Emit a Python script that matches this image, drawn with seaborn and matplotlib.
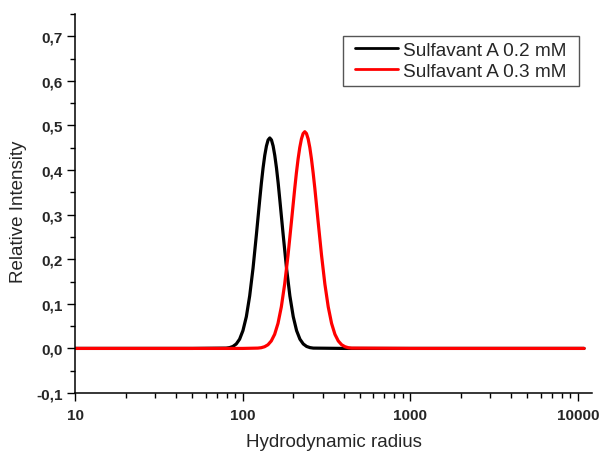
import matplotlib
matplotlib.use("Agg")
import matplotlib.pyplot as plt
from matplotlib.patches import Rectangle
from matplotlib.ticker import FuncFormatter, MultipleLocator, FixedLocator
import pandas as pd
import seaborn as sns

# Size distributions (hydrodynamic radius vs. relative intensity)
radius_02 = [10, 50, 79.6, 83.4, 87.3, 91.4, 95.7, 100.2, 105.0, 109.9, 115.1,
             120.5, 126.2, 129.1, 132.1, 135.2, 138.4, 141.6, 144.9, 148.3,
             151.7, 155.2, 158.9, 162.6, 166.3, 174.2, 182.4, 191.0, 200.0,
             209.4, 219.3, 229.6, 240.4, 251.8, 263.6, 400, 1000, 10900]
intensity_02 = [0.0, 0.0, 0.0007, 0.0018, 0.0044, 0.0100, 0.0207, 0.0400,
                0.0713, 0.1177, 0.1799, 0.2546, 0.3336, 0.3709, 0.4045, 0.4328,
                0.4540, 0.4675, 0.4720, 0.4675, 0.4540, 0.4328, 0.4045, 0.3709,
                0.3336, 0.2546, 0.1799, 0.1177, 0.0713, 0.0400, 0.0207, 0.0100,
                0.0044, 0.0018, 0.0007, 0.0, 0.0, 0.0]

radius_03 = [10, 100, 123.0, 128.8, 134.9, 141.3, 147.9, 154.9, 162.2, 169.8,
             177.8, 186.2, 195.0, 204.2, 208.9, 213.8, 218.8, 223.9, 229.1,
             234.4, 239.9, 245.5, 251.2, 257.0, 263.0, 269.2, 281.8, 295.1,
             309.0, 323.6, 338.8, 354.8, 371.5, 389.1, 407.4, 426.6, 446.7,
             1000, 10900]
intensity_03 = [0.0, 0.0, 0.0007, 0.0016, 0.0038, 0.0082, 0.0167, 0.0316,
                0.0561, 0.0931, 0.1443, 0.2091, 0.2833, 0.3588, 0.3936, 0.4247,
                0.4505, 0.4699, 0.4819, 0.4860, 0.4819, 0.4699, 0.4505, 0.4247,
                0.3936, 0.3588, 0.2833, 0.2091, 0.1443, 0.0931, 0.0561, 0.0316,
                0.0167, 0.0082, 0.0038, 0.0016, 0.0007, 0.0, 0.0]

labels = ["Sulfavant A 0.2 mM", "Sulfavant A 0.3 mM"]
colors = ["#000000", "#ff0000"]
y_ticks = [-0.1, 0.0, 0.1, 0.2, 0.3, 0.4, 0.5, 0.6, 0.7]
x_ticks = [10, 100, 1000, 10000]

df = pd.concat([
    pd.DataFrame({"radius": radius_02, "intensity": intensity_02, "sample": labels[0]}),
    pd.DataFrame({"radius": radius_03, "intensity": intensity_03, "sample": labels[1]}),
], ignore_index=True)

sns.set_theme(style="ticks")
plt.rcParams["font.family"] = ["Liberation Sans", "DejaVu Sans"]

W, H = 599, 452
fig = plt.figure(figsize=(W / 100, H / 100), dpi=100)
ax = fig.add_axes([0.1257, 0.1283, 0.8621, 0.8385])

sns.lineplot(data=df, x="radius", y="intensity", hue="sample",
             hue_order=labels, palette=colors, linewidth=2.3,
             estimator=None, sort=True, ax=ax)

ax.set_xscale("log")
ax.set_xlim(10, 12100)
ax.set_ylim(-0.1, 0.75)

ax.xaxis.set_major_locator(FixedLocator(x_ticks))
ax.xaxis.set_major_formatter(FuncFormatter(lambda v, p: f"{int(round(v))}"))
ax.yaxis.set_major_locator(FixedLocator(y_ticks))
ax.yaxis.set_minor_locator(MultipleLocator(0.05))
ax.yaxis.set_major_formatter(FuncFormatter(lambda v, p: f"{v:.1f}".replace(".", ",")))

for side in ("top", "right"):
    ax.spines[side].set_visible(False)
for side in ("left", "bottom"):
    ax.spines[side].set_linewidth(1.1)
    ax.spines[side].set_color("black")

ax.tick_params(which="major", length=6.0, width=1.0, color="black",
               labelsize=11, direction="out")
ax.tick_params(axis="x", which="major", pad=4.5)
ax.tick_params(axis="y", which="major", pad=3)
ax.tick_params(which="minor", length=3.4, width=1.0, color="black",
               direction="out")
for lbl in ax.get_xticklabels() + ax.get_yticklabels():
    lbl.set_fontweight("bold")

ax.set_xlabel("Hydrodynamic radius", fontsize=13.5)
ax.set_ylabel("Relative Intensity", fontsize=13.5)
ax.xaxis.set_label_coords(0.5, -0.105)
ax.yaxis.set_label_coords(-0.094, 0.48)

# Legend without its own frame; a plain box with wider side margins is drawn around it
leg = ax.legend(loc="upper left",
                bbox_to_anchor=(349 / W, 1 - 37 / H), bbox_transform=fig.transFigure,
                fontsize=13.7, frameon=False,
                handlelength=2.3, handletextpad=0.26, labelspacing=0.2,
                borderpad=0.3, borderaxespad=0.0, title=None)
for line in leg.get_lines():
    line.set_linewidth(2.0)

fig.canvas.draw()
bb = leg.get_window_extent()
side_pad = 6
fig.patches.append(Rectangle(((bb.x0 - side_pad) / W, bb.y0 / H),
                             (bb.width + 2 * side_pad) / W, bb.height / H,
                             transform=fig.transFigure, fill=False,
                             edgecolor="#555555", linewidth=1.0, zorder=5))

fig.savefig("out.png", dpi=100)
